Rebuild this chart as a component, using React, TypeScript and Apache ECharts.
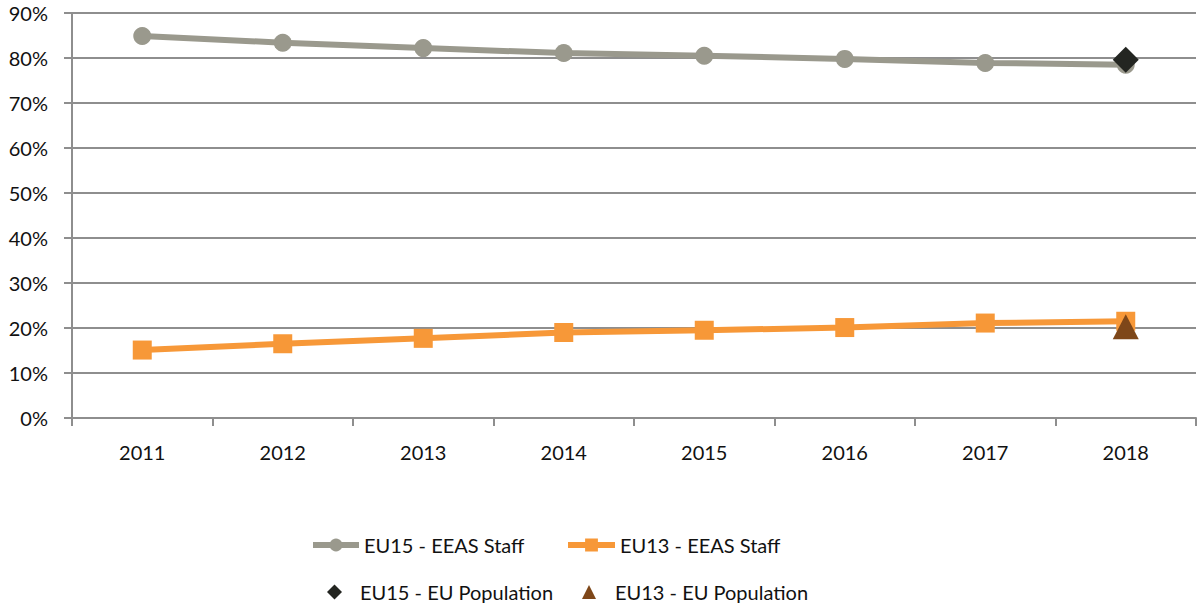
import React, { useEffect, useRef } from "react";
import * as echarts from "echarts";

const years = ["2011", "2012", "2013", "2014", "2015", "2016", "2017", "2018"];
const eu15Staff = [84.9, 83.4, 82.2, 81.1, 80.5, 79.8, 78.9, 78.5];
const eu13Staff = [15.1, 16.5, 17.7, 19.0, 19.5, 20.1, 21.1, 21.5];
const eu15PopulationYear = "2018";
const eu15Population = 79.6;
const eu13PopulationYear = "2018";
const eu13Population = 20.3;
const yTicksMax = 90;

const FONT = "Lato";
const GRAY = "#9a998d";
const ORANGE = "#f79838";
const DIAMOND = "#232521";
const TRIANGLE = "#7e4719";
const GRID = "#8e8e8e";

export default function App() {
  const ref = useRef<HTMLDivElement>(null);
  useEffect(() => {
    if (!ref.current) return;
    const chart = echarts.init(ref.current, undefined, { renderer: "svg" });
    const textStyle = { fontFamily: FONT, fontSize: 20, color: "#111" };
    const legendText = { fontFamily: FONT, fontSize: 20, color: "#111" };
    chart.setOption({
      animation: false,
      textStyle: { fontFamily: FONT },
      grid: { left: 72, right: 1, top: 13, bottom: 189, containLabel: false },
      xAxis: {
        type: "category",
        data: years,
        boundaryGap: true,
        axisLine: { show: true, lineStyle: { color: GRID, width: 2 } },
        axisTick: { show: true, length: 8, lineStyle: { color: GRID, width: 2 } },
        axisLabel: { ...textStyle, margin: 24 },
      },
      yAxis: {
        type: "value",
        min: 0,
        max: yTicksMax,
        interval: 10,
        axisLine: { show: true, lineStyle: { color: GRID, width: 2 } },
        axisTick: { show: true, length: 8, lineStyle: { color: GRID, width: 2 } },
        axisLabel: { ...textStyle, margin: 24, formatter: "{value}%" },
        splitLine: { show: true, lineStyle: { color: GRID, width: 2 } },
      },
      legend: [
        {
          data: ["EU15 - EEAS Staff"],
          left: 310,
          top: 535,
          padding: 0,
          itemWidth: 46,
          itemHeight: 16,
          selectedMode: false,
          lineStyle: { width: 6 },
          textStyle: legendText,
        },
        {
          data: ["EU13 - EEAS Staff"],
          left: 565,
          top: 535,
          padding: 0,
          itemWidth: 47,
          itemHeight: 16,
          selectedMode: false,
          lineStyle: { width: 6 },
          textStyle: legendText,
        },
        {
          data: ["EU15 - EU Population"],
          left: 327,
          top: 582,
          padding: 0,
          itemWidth: 15,
          itemHeight: 15,
          selectedMode: false,
          textStyle: { ...legendText, padding: [0, 0, 0, 13] },
        },
        {
          data: ["EU13 - EU Population"],
          left: 582,
          top: 582,
          padding: 0,
          itemWidth: 14,
          itemHeight: 14,
          selectedMode: false,
          textStyle: { ...legendText, padding: [0, 0, 0, 14] },
        },
      ],
      series: [
        {
          name: "EU15 - EEAS Staff",
          type: "line",
          data: eu15Staff,
          symbol: "circle",
          symbolSize: 18,
          lineStyle: { color: GRAY, width: 6 },
          itemStyle: { color: GRAY },
          z: 3,
        },
        {
          name: "EU13 - EEAS Staff",
          type: "line",
          data: eu13Staff,
          symbol: "rect",
          symbolSize: 19,
          lineStyle: { color: ORANGE, width: 6 },
          itemStyle: { color: ORANGE },
          z: 3,
        },
        {
          name: "EU15 - EU Population",
          type: "scatter",
          data: [[eu15PopulationYear, eu15Population]],
          symbol: "diamond",
          symbolSize: [26, 26],
          itemStyle: { color: DIAMOND, opacity: 1 },
          z: 5,
        },
        {
          name: "EU13 - EU Population",
          type: "scatter",
          data: [[eu13PopulationYear, eu13Population]],
          symbol: "triangle",
          symbolSize: [26, 25],
          itemStyle: { color: TRIANGLE, opacity: 1 },
          z: 5,
        },
      ],
    });
    return () => chart.dispose();
  }, []);
  return <div ref={ref} style={{ width: 1197, height: 607, position: "absolute", left: 0, top: 0 }} />;
}
